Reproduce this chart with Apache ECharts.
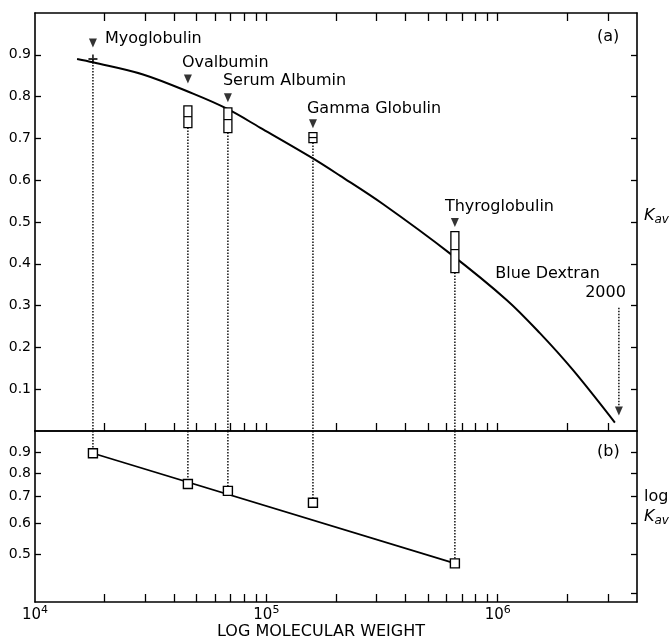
<!DOCTYPE html>
<html>
<head>
<meta charset="utf-8">
<script src="https://cdn.jsdelivr.net/npm/echarts@6/dist/echarts.min.js"></script>
<style>
html, body { margin: 0; padding: 0; background: #fff; }
#main { width: 671px; height: 640px; }
</style>
</head>
<body>
<div id="main"></div>
<script>
// proteins
var names = ['Myoglobulin', 'Ovalbumin', 'Serum Albumin', 'Gamma Globulin', 'Thyroglobulin'];
var mw = [17800, 45800, 68200, 159000, 653000];
var kavTop = [0.89, 0.778, 0.773, 0.714, 0.477];
var kavMid = [0.89, 0.752, 0.745, 0.702, 0.434];
var kavBottom = [0.89, 0.726, 0.714, 0.69, 0.379];
var arrowKav = [0.928, 0.842, 0.797, 0.735, 0.499];
// panel (b), log Kav
var logKav = [0.897, 0.751, 0.722, 0.674, 0.475];

// calibration curve of panel (a)
var curveMw = [15200, 17800, 29300, 48200, 67500, 93800, 157000, 208000, 319000, 621000, 1096000, 1522000, 2113000, 3210000];
var curveKav = [0.89, 0.882, 0.853, 0.807, 0.771, 0.726, 0.654, 0.611, 0.543, 0.425, 0.313, 0.234, 0.146, 0.02];

// blue dextran 2000 arrow
var dextranMw = 3340000;
var dextranTop = 0.295;
var dextranTip = 0.048;

// axes
var xMin = 10000, xMax = 4000000;
var xTicks = [20000, 30000, 40000, 50000, 60000, 70000, 80000, 90000, 100000,
	200000, 300000, 400000, 500000, 600000, 700000, 800000, 900000, 1000000,
	2000000, 3000000];
var xLabels = [10000, 100000, 1000000];
var kavTicks = [0.1, 0.2, 0.3, 0.4, 0.5, 0.6, 0.7, 0.8, 0.9];
var logTicksLeft = [0.5, 0.6, 0.7, 0.8, 0.9];
var logTicksRight = [0.4, 0.5, 0.6, 0.7, 0.8, 0.9];
var yLogMin = 0.38, yLogMax = 1.02;

var FONT = 'DejaVu Sans';

function pairs(xs, ys) {
	var out = [];
	for (var i = 0; i < xs.length; i++) out.push([xs[i], ys[i]]);
	return out;
}

// log x axis helper
function xAxisLog(grid, pos, ticks, labels) {
	return {
		type: 'log', logBase: 10, gridIndex: grid, position: pos,
		min: xMin, max: xMax,
		axisLine: { show: true, onZero: false, lineStyle: { color: '#000', width: 1.6 } },
		axisTick: { show: ticks, inside: true, length: 8, customValues: xTicks, lineStyle: { color: '#000', width: 1.3 } },
		minorTick: { show: false },
		splitLine: { show: false },
		axisLabel: labels ? {
			show: true, customValues: xLabels, margin: 3, color: '#000',
			formatter: function (v) {
				return '{b|10}{s|' + Math.round(Math.log10(v)) + '}';
			},
			rich: {
				b: { fontFamily: FONT, fontSize: 15, color: '#000', lineHeight: 18, verticalAlign: 'bottom' },
				s: { fontFamily: FONT, fontSize: 11, color: '#000', lineHeight: 18, verticalAlign: 'top' }
			}
		} : { show: false },
		name: labels ? 'LOG MOLECULAR WEIGHT' : '',
		nameLocation: 'middle', nameGap: 22,
		nameTextStyle: { fontFamily: FONT, fontSize: 16, color: '#000', padding: [0, 30, 0, 0] }
	};
}

function yAxisDef(grid, pos, type, min, max, ticks, labels, name, nameRich, namePad) {
	return {
		type: type, gridIndex: grid, position: pos, min: min, max: max,
		axisLine: { show: true, onZero: false, lineStyle: { color: '#000', width: 1.6 } },
		axisTick: { show: true, inside: true, length: 6, customValues: ticks, lineStyle: { color: '#000', width: 1.3 } },
		minorTick: { show: false },
		splitLine: { show: false },
		axisLabel: labels ? {
			show: true, customValues: labels, margin: 4, color: '#000',
			fontFamily: FONT, fontSize: 14,
			formatter: function (v) { return v.toFixed(1); }
		} : { show: false },
		name: name || '',
		nameLocation: 'middle', nameRotate: 0, nameGap: 7,
		nameTextStyle: { align: 'left', rich: nameRich, padding: namePad || 0 }
	};
}

var kavRich = {
	k: { fontFamily: FONT, fontSize: 16, fontStyle: 'italic', color: '#000', lineHeight: 20 },
	s: { fontFamily: FONT, fontSize: 12, fontStyle: 'italic', color: '#000', lineHeight: 20, verticalAlign: 'bottom', padding: [6, 0, 0, 0] },
	l: { fontFamily: FONT, fontSize: 16, color: '#000', lineHeight: 20 }
};

// series
var series = [];

// curve in panel (a)
series.push({
	type: 'line', xAxisIndex: 0, yAxisIndex: 0,
	data: pairs(curveMw, curveKav),
	smooth: 0.35, symbol: 'none', z: 3,
	lineStyle: { color: '#000', width: 2 }
});

// dotted drop lines
for (var i = 0; i < names.length; i++) {
	series.push({
		type: 'line', xAxisIndex: 0, yAxisIndex: 0, symbol: 'none', z: 2,
		data: [[mw[i], kavBottom[i]], [mw[i], 0]],
		lineStyle: { color: '#000', width: 1.4, type: [1.5, 1.5] }
	});
	series.push({
		type: 'line', xAxisIndex: 2, yAxisIndex: 2, symbol: 'none', z: 2,
		data: [[mw[i], yLogMax], [mw[i], logKav[i]]],
		lineStyle: { color: '#000', width: 1.4, type: [1.5, 1.5] }
	});
}

// boxes (range of Kav) with mid line
var boxData = [];
for (var i = 1; i < names.length; i++) {
	boxData.push([mw[i], kavTop[i], kavMid[i], kavBottom[i]]);
}
series.push({
	type: 'custom', xAxisIndex: 0, yAxisIndex: 0, z: 5,
	encode: { x: 0, y: [1, 2, 3] },
	data: boxData,
	renderItem: function (params, api) {
		var x = api.value(0);
		var top = api.coord([x, api.value(1)]);
		var mid = api.coord([x, api.value(2)]);
		var bot = api.coord([x, api.value(3)]);
		var w = 8;
		return {
			type: 'group',
			children: [
				{ type: 'rect', shape: { x: top[0] - w / 2, y: top[1], width: w, height: bot[1] - top[1] },
					style: { fill: '#fff', stroke: '#000', lineWidth: 1.3 } },
				{ type: 'line', shape: { x1: top[0] - w / 2, y1: mid[1], x2: top[0] + w / 2, y2: mid[1] },
					style: { stroke: '#000', lineWidth: 1.2 } }
			]
		};
	}
});

// myoglobulin cross
series.push({
	type: 'scatter', xAxisIndex: 0, yAxisIndex: 0, z: 5,
	data: [[mw[0], kavMid[0]]],
	symbol: 'path://M4,0h2v4h4v2h-4v4h-2v-4h-4v-2h4z', symbolSize: 9,
	itemStyle: { color: '#000' }
});

// arrow heads with names
var labelOffsets = [[3, -4], [-6, 1], [-5, 0], [-6, 3], [-10, 2]];
var arrowData = [];
for (var i = 0; i < names.length; i++) {
	arrowData.push({
		value: [mw[i], arrowKav[i]],
		label: {
			show: true, formatter: names[i], color: '#000', opacity: 1,
			textBorderWidth: 0, fontFamily: FONT, fontSize: 16,
			position: i == 0 ? 'right' : 'top', align: 'left',
			offset: labelOffsets[i]
		}
	});
}
arrowData.push({ value: [dextranMw, dextranTip] });
series.push({
	type: 'scatter', xAxisIndex: 0, yAxisIndex: 0, z: 6,
	data: arrowData,
	symbol: 'triangle', symbolRotate: 180, symbolSize: [8, 9],
	itemStyle: { color: '#000' },
	label: { fontFamily: FONT, fontSize: 16, color: '#000' }
});

// blue dextran dotted arrow + its label
series.push({
	type: 'line', xAxisIndex: 0, yAxisIndex: 0, symbol: 'none', z: 2,
	data: [[dextranMw, dextranTop], [dextranMw, dextranTip + 0.01]],
	lineStyle: { color: '#000', width: 1.4, type: [1.5, 1.5] }
});
series.push({
	type: 'scatter', xAxisIndex: 0, yAxisIndex: 0, z: 6,
	data: [{
		value: [dextranMw, dextranTop],
		label: {
			show: true, position: 'top', align: 'right', offset: [7, 0],
			color: '#000', opacity: 1, textBorderWidth: 0,
			formatter: '{a|Blue Dextran}\n{b|2000}',
			rich: {
				a: { fontFamily: FONT, fontSize: 16, color: '#000', lineHeight: 19, padding: [0, 26, 0, 0] },
				b: { fontFamily: FONT, fontSize: 16, color: '#000', lineHeight: 19 }
			}
		}
	}],
	symbolSize: 0
});

// panel (b): straight line and squares
series.push({
	type: 'line', xAxisIndex: 2, yAxisIndex: 2, symbol: 'none', z: 3,
	data: [[mw[0], logKav[0]], [mw[4], logKav[4]]],
	lineStyle: { color: '#000', width: 1.8 }
});
series.push({
	type: 'scatter', xAxisIndex: 2, yAxisIndex: 2, z: 5,
	data: pairs(mw, logKav),
	symbol: 'rect', symbolSize: 9,
	itemStyle: { color: '#fff', borderColor: '#000', borderWidth: 1.4, opacity: 1 }
});

var option = {
	animation: false,
	backgroundColor: '#fff',
	textStyle: { fontFamily: FONT },
	grid: [
		{ left: 35, right: 34, top: 13, height: 418, outerBoundsMode: 'none' },
		{ left: 35, right: 34, top: 431, height: 171, outerBoundsMode: 'none' }
	],
	xAxis: [
		xAxisLog(0, 'bottom', true, false),
		xAxisLog(0, 'top', true, false),
		xAxisLog(1, 'bottom', true, true),
		xAxisLog(1, 'top', false, false)
	],
	yAxis: [
		yAxisDef(0, 'left', 'value', 0, 1, kavTicks, kavTicks),
		yAxisDef(0, 'right', 'value', 0, 1, kavTicks, null, '{k|K}{s|av}', kavRich, [0, 0, 12, 0]),
		yAxisDef(1, 'left', 'log', yLogMin, yLogMax, logTicksLeft, logTicksLeft),
		yAxisDef(1, 'right', 'log', yLogMin, yLogMax, logTicksRight, null, '{l|log}\n{k|K}{s|av}', kavRich, [0, 0, 20, 0])
	],
	graphic: [
		{ type: 'text', left: 597, top: 29, style: { text: '(a)', font: '16px "DejaVu Sans"', fill: '#000' } },
		{ type: 'text', left: 597, top: 444, style: { text: '(b)', font: '16px "DejaVu Sans"', fill: '#000' } }
	],
	series: series
};

var myChart = echarts.init(document.getElementById('main'));
myChart.setOption(option);
</script>
</body>
</html>
